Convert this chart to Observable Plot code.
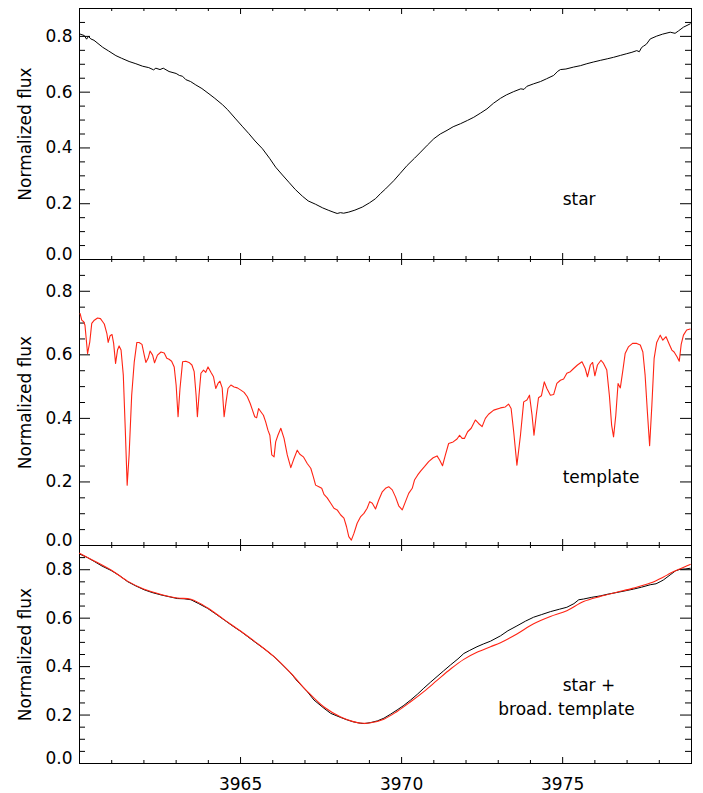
<!DOCTYPE html>
<html><head><meta charset="utf-8">
<script src="https://cdn.jsdelivr.net/npm/d3@7"></script>
<script src="https://cdn.jsdelivr.net/npm/@observablehq/plot@0.6"></script>
<style>
body{margin:0;background:#fff;}
#chart{position:relative;width:703px;height:793px;background:#fff;font-family:"DejaVu Sans",sans-serif;}
#chart svg{position:absolute;left:0;overflow:visible;}
</style></head><body><div id="chart"></div>
<script>
// ---------- data ----------
// top panel: observed star
const starWave = [3960.00,3960.15,3960.22,3960.28,3960.35,3960.45,3960.72,3960.90,3961.13,3961.30,3961.54,3961.75,3961.96,3962.15,3962.30,3962.37,3962.50,3962.60,3962.78,3963.00,3963.10,3963.20,3963.30,3963.45,3963.61,3963.80,3964.02,3964.20,3964.44,3964.60,3964.85,3965.05,3965.26,3965.45,3965.68,3965.90,3966.09,3966.30,3966.50,3966.70,3966.92,3967.10,3967.33,3967.55,3967.74,3967.90,3968.00,3968.10,3968.20,3968.36,3968.55,3968.78,3969.00,3969.19,3969.35,3969.50,3969.76,3969.95,3970.17,3970.40,3970.59,3970.80,3971.00,3971.20,3971.41,3971.60,3971.83,3972.05,3972.24,3972.45,3972.65,3972.85,3973.07,3973.25,3973.48,3973.70,3973.80,3973.89,3974.10,3974.31,3974.50,3974.72,3974.85,3974.93,3975.10,3975.34,3975.55,3975.75,3975.95,3976.17,3976.40,3976.58,3976.80,3976.99,3977.15,3977.30,3977.38,3977.45,3977.51,3977.60,3977.72,3977.92,3978.10,3978.34,3978.49,3978.60,3978.75,3978.96];
const starFlux = [0.809,0.803,0.790,0.800,0.791,0.786,0.761,0.748,0.731,0.722,0.710,0.702,0.693,0.688,0.680,0.686,0.681,0.686,0.674,0.667,0.660,0.657,0.645,0.638,0.626,0.613,0.594,0.578,0.555,0.537,0.504,0.478,0.451,0.425,0.397,0.363,0.331,0.303,0.277,0.251,0.227,0.210,0.198,0.185,0.176,0.169,0.165,0.168,0.166,0.170,0.177,0.188,0.203,0.218,0.237,0.253,0.283,0.308,0.337,0.363,0.385,0.410,0.433,0.450,0.463,0.476,0.487,0.499,0.510,0.525,0.540,0.560,0.578,0.590,0.602,0.612,0.610,0.621,0.630,0.638,0.648,0.660,0.675,0.681,0.683,0.690,0.695,0.702,0.708,0.714,0.720,0.725,0.732,0.738,0.743,0.749,0.745,0.760,0.765,0.772,0.791,0.801,0.808,0.815,0.811,0.820,0.833,0.845];

// middle panel: template
const tmplWave = [3960.02,3960.07,3960.13,3960.17,3960.25,3960.32,3960.38,3960.46,3960.56,3960.65,3960.72,3960.77,3960.85,3960.89,3960.95,3961.01,3961.06,3961.12,3961.18,3961.23,3961.29,3961.36,3961.42,3961.48,3961.54,3961.62,3961.70,3961.78,3961.85,3961.94,3962.01,3962.06,3962.13,3962.19,3962.27,3962.33,3962.42,3962.53,3962.63,3962.71,3962.78,3962.86,3962.94,3963.00,3963.06,3963.12,3963.20,3963.30,3963.40,3963.49,3963.56,3963.62,3963.66,3963.71,3963.77,3963.85,3963.92,3963.99,3964.08,3964.16,3964.23,3964.30,3964.36,3964.43,3964.49,3964.55,3964.61,3964.70,3964.80,3964.90,3965.01,3965.11,3965.21,3965.30,3965.37,3965.44,3965.50,3965.56,3965.63,3965.71,3965.78,3965.85,3965.91,3965.97,3966.04,3966.09,3966.16,3966.25,3966.35,3966.45,3966.56,3966.66,3966.76,3966.84,3966.95,3967.07,3967.18,3967.26,3967.33,3967.43,3967.52,3967.59,3967.69,3967.80,3967.90,3968.00,3968.11,3968.21,3968.29,3968.36,3968.44,3968.52,3968.62,3968.73,3968.83,3968.93,3969.01,3969.09,3969.19,3969.29,3969.40,3969.50,3969.60,3969.71,3969.81,3969.91,3970.02,3970.12,3970.22,3970.33,3970.40,3970.50,3970.59,3970.71,3970.84,3970.98,3971.10,3971.18,3971.27,3971.36,3971.46,3971.60,3971.72,3971.80,3971.88,3971.95,3972.05,3972.16,3972.29,3972.39,3972.50,3972.60,3972.70,3972.86,3973.07,3973.22,3973.32,3973.40,3973.48,3973.58,3973.69,3973.79,3973.89,3973.97,3974.05,3974.11,3974.18,3974.25,3974.34,3974.43,3974.51,3974.62,3974.72,3974.82,3974.93,3975.03,3975.13,3975.24,3975.34,3975.46,3975.60,3975.70,3975.77,3975.86,3975.93,3976.00,3976.08,3976.19,3976.27,3976.37,3976.45,3976.52,3976.58,3976.65,3976.72,3976.79,3976.87,3976.94,3977.04,3977.17,3977.30,3977.41,3977.49,3977.56,3977.63,3977.70,3977.77,3977.84,3977.92,3978.03,3978.11,3978.21,3978.32,3978.39,3978.46,3978.55,3978.62,3978.68,3978.75,3978.85,3978.96];
const tmplFlux = [0.730,0.709,0.704,0.693,0.604,0.641,0.699,0.709,0.716,0.714,0.704,0.697,0.667,0.639,0.660,0.664,0.636,0.573,0.615,0.628,0.615,0.536,0.369,0.190,0.285,0.473,0.578,0.639,0.639,0.633,0.599,0.576,0.589,0.612,0.599,0.575,0.599,0.609,0.606,0.589,0.586,0.580,0.562,0.505,0.405,0.494,0.578,0.580,0.576,0.568,0.547,0.473,0.405,0.473,0.542,0.552,0.545,0.562,0.545,0.531,0.494,0.510,0.517,0.496,0.405,0.452,0.494,0.505,0.499,0.496,0.489,0.482,0.468,0.447,0.426,0.405,0.402,0.431,0.421,0.410,0.389,0.363,0.347,0.285,0.279,0.326,0.347,0.369,0.337,0.285,0.245,0.274,0.300,0.287,0.279,0.258,0.243,0.216,0.190,0.185,0.180,0.161,0.150,0.133,0.117,0.112,0.096,0.086,0.059,0.028,0.017,0.038,0.070,0.091,0.101,0.117,0.138,0.133,0.115,0.143,0.169,0.180,0.185,0.175,0.153,0.125,0.112,0.138,0.164,0.180,0.206,0.222,0.234,0.248,0.264,0.276,0.282,0.269,0.251,0.285,0.321,0.326,0.335,0.347,0.337,0.337,0.358,0.369,0.395,0.384,0.374,0.400,0.413,0.426,0.433,0.436,0.445,0.431,0.358,0.253,0.347,0.452,0.458,0.473,0.410,0.347,0.410,0.465,0.471,0.515,0.494,0.473,0.475,0.510,0.520,0.524,0.542,0.547,0.557,0.568,0.578,0.557,0.531,0.568,0.576,0.534,0.568,0.583,0.573,0.552,0.473,0.379,0.342,0.410,0.510,0.496,0.552,0.604,0.625,0.636,0.636,0.631,0.609,0.536,0.421,0.314,0.442,0.589,0.639,0.662,0.646,0.657,0.631,0.615,0.609,0.594,0.580,0.633,0.662,0.678,0.681];

// bottom panel: star (black) and broadened template (red)
const obsWave = [3960.00,3960.05,3960.25,3960.46,3960.70,3960.98,3961.25,3961.49,3961.75,3962.01,3962.25,3962.53,3962.80,3963.04,3963.25,3963.46,3963.70,3963.97,3964.20,3964.49,3964.75,3965.01,3965.21,3965.52,3965.73,3966.04,3966.25,3966.56,3966.76,3967.07,3967.28,3967.59,3967.80,3968.11,3968.31,3968.50,3968.73,3968.85,3969.04,3969.25,3969.45,3969.65,3969.86,3970.07,3970.28,3970.50,3970.69,3970.90,3971.10,3971.30,3971.52,3971.75,3971.93,3972.10,3972.34,3972.55,3972.76,3973.07,3973.30,3973.58,3973.85,3974.10,3974.35,3974.62,3974.90,3975.13,3975.35,3975.50,3975.65,3975.90,3976.17,3976.40,3976.68,3976.95,3977.20,3977.45,3977.72,3977.90,3978.05,3978.13,3978.34,3978.50,3978.65,3978.80,3978.96];
const obsFlux = [0.865,0.862,0.850,0.834,0.815,0.797,0.775,0.751,0.733,0.717,0.706,0.696,0.688,0.681,0.680,0.676,0.660,0.641,0.620,0.593,0.568,0.545,0.525,0.494,0.474,0.441,0.414,0.373,0.340,0.297,0.262,0.228,0.207,0.190,0.180,0.172,0.166,0.165,0.169,0.176,0.187,0.203,0.221,0.240,0.262,0.287,0.311,0.336,0.359,0.382,0.407,0.432,0.454,0.466,0.482,0.494,0.505,0.527,0.548,0.568,0.588,0.604,0.615,0.627,0.637,0.645,0.660,0.676,0.679,0.686,0.692,0.699,0.706,0.713,0.720,0.728,0.738,0.742,0.752,0.758,0.779,0.795,0.802,0.803,0.806];
const broadWave = [3960.00,3960.46,3960.98,3961.49,3962.01,3962.53,3963.04,3963.46,3963.97,3964.49,3965.01,3965.52,3966.04,3966.56,3967.07,3967.59,3968.11,3968.50,3968.80,3969.04,3969.45,3969.86,3970.28,3970.69,3971.10,3971.52,3971.93,3972.34,3972.76,3973.07,3973.58,3974.10,3974.62,3975.13,3975.65,3976.17,3976.68,3977.20,3977.72,3978.13,3978.34,3978.65,3978.96];
const broadFlux = [0.868,0.836,0.799,0.753,0.719,0.698,0.683,0.678,0.643,0.594,0.546,0.496,0.441,0.373,0.298,0.233,0.192,0.173,0.166,0.168,0.183,0.215,0.255,0.297,0.343,0.390,0.430,0.459,0.482,0.499,0.535,0.577,0.607,0.631,0.669,0.690,0.707,0.724,0.745,0.770,0.785,0.804,0.822];

// ticks
const yMajor = [0, 0.2, 0.4, 0.6, 0.8];
const yMinor = [0.05,0.1,0.15,0.25,0.3,0.35,0.45,0.5,0.55,0.65,0.7,0.75,0.85];
const xMajor = [3965, 3970, 3975];
const xMinor = [3961,3962,3963,3964,3966,3967,3968,3969,3971,3972,3973,3974,3976,3977,3978];
const xDomain = [3960, 3979];
const yDomain = [0, 0.9];
const yTitle = "Normalized flux";

const RED = "#ff2414";
const rows = (w, f) => w.map((x, i) => ({w: x, f: f[i]}));

const chart = document.getElementById("chart");
function panel(top, frameH, mb, content, showX) {
  const W = 703, ml = 79, mr = 12, mt = 8;
  const iw = W - ml - mr, ih = frameH;
  const fmt = d3.format(".1f");
  const marks = [
    Plot.frame({stroke: "black"}),
    Plot.tickY(yMajor, {y: d => d, insetRight: iw - 11}),
    Plot.tickY(yMajor, {y: d => d, insetLeft: iw - 11}),
    Plot.tickY(yMinor, {y: d => d, insetRight: iw - 6}),
    Plot.tickY(yMinor, {y: d => d, insetLeft: iw - 6}),
    Plot.tickX(xMajor, {x: d => d, insetBottom: ih - 6}),
    Plot.tickX(xMajor, {x: d => d, insetTop: ih - 6}),
    Plot.tickX(xMinor, {x: d => d, insetBottom: ih - 3}),
    Plot.tickX(xMinor, {x: d => d, insetTop: ih - 3}),
    Plot.axisY(yMajor.filter(v => v > 0), {tickSize: 0, tickPadding: 7, tickFormat: fmt, label: null}),
    Plot.axisY([0], {tickSize: 0, tickPadding: 7, tickFormat: fmt, label: null, dy: -5}),
    Plot.text([yTitle], {text: d => d, frameAnchor: "left", textAnchor: "middle", lineAnchor: "middle", rotate: -90, dx: -54, style: "letter-spacing:0.3px"}),
    ...content
  ];
  if (showX) marks.push(Plot.axisX(xMajor, {tickSize: 0, tickPadding: 14, tickFormat: d => String(d), label: null}));
  const svg = Plot.plot({
    width: W, height: mt + ih + mb,
    marginLeft: ml, marginRight: mr, marginTop: mt, marginBottom: mb,
    x: {domain: xDomain, axis: showX ? undefined : null},
    y: {domain: yDomain, axis: null},
    style: {background: "transparent", overflow: "visible", fontFamily: "DejaVu Sans, sans-serif", fontSize: "17px", color: "black"},
    marks
  });
  svg.style.top = top + "px";
  chart.appendChild(svg);
}

const lbl = {text: d => d, textAnchor: "start", lineAnchor: "middle", fontSize: 17, style: "letter-spacing:0.8px"};

panel(0, 251, 8, [
  Plot.line(rows(starWave, starFlux), {x: "w", y: "f", stroke: "black", strokeWidth: 1, clip: true}),
  Plot.text(["star"], {...lbl, x: 3975, y: 0.215})
], false);

panel(251, 286, 8, [
  Plot.line(rows(tmplWave, tmplFlux), {x: "w", y: "f", stroke: RED, strokeWidth: 1.1, clip: true}),
  Plot.text(["template"], {...lbl, x: 3975, y: 0.213})
], false);

panel(537, 218, 30, [
  Plot.line(rows(obsWave, obsFlux), {x: "w", y: "f", stroke: "black", strokeWidth: 1, clip: true}),
  Plot.line(rows(broadWave, broadFlux), {x: "w", y: "f", stroke: RED, strokeWidth: 1.1, curve: "catmull-rom", clip: true}),
  Plot.text(["star +"], {...lbl, x: 3975, y: 0.32}),
  Plot.text(["broad. template"], {...lbl, x: 3973, y: 0.221})
], true);
</script></body></html>
